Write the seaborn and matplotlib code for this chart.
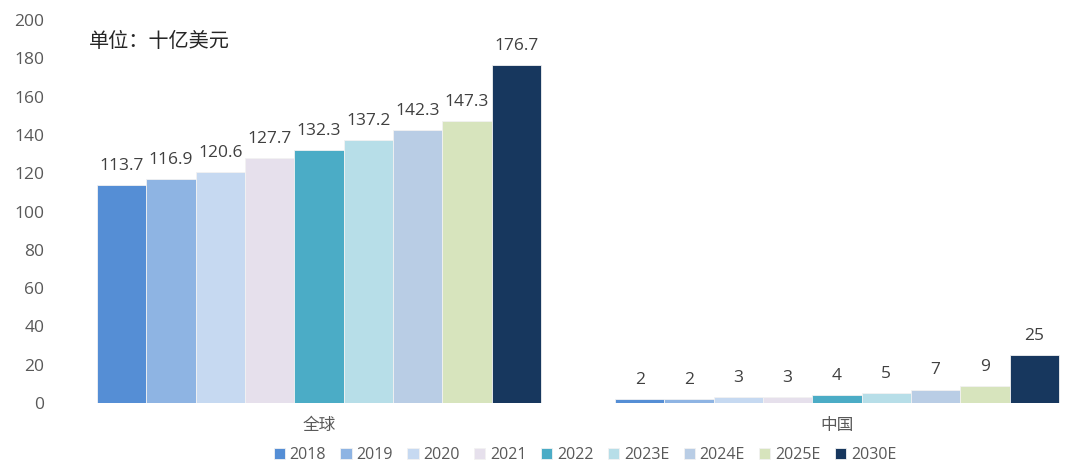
import matplotlib
matplotlib.use("Agg")
import matplotlib.pyplot as plt
import seaborn as sns
import pandas as pd

categories = ["全球", "中国"]
years = ["2018", "2019", "2020", "2021", "2022", "2023E", "2024E", "2025E", "2030E"]
global_values = [113.7, 116.9, 120.6, 127.7, 132.3, 137.2, 142.3, 147.3, 176.7]
china_values = [2, 2, 3, 3, 4, 5, 7, 9, 25]
global_labels = ["113.7", "116.9", "120.6", "127.7", "132.3", "137.2", "142.3", "147.3", "176.7"]
china_labels = ["2", "2", "3", "3", "4", "5", "7", "9", "25"]
colors = ["#558ED5", "#8EB4E3", "#C6D9F1", "#E6E0EC", "#4BACC6",
          "#B7DEE8", "#B9CDE5", "#D7E4BD", "#17375E"]
yticks = [0, 20, 40, 60, 80, 100, 120, 140, 160, 180, 200]

rows = []
for y, g, c in zip(years, global_values, china_values):
    rows.append({"cat": categories[0], "year": y, "value": g})
    rows.append({"cat": categories[1], "year": y, "value": c})
df = pd.DataFrame(rows)

sns.set_theme(style="white")
plt.rcParams['font.family'] = ['Open Sans', 'Noto Sans CJK SC', 'DejaVu Sans']

fig = plt.figure(figsize=(10.8, 4.76), dpi=100)
ax = fig.add_axes([75/1080, 73/476, 1000/1080, 383/476])

sns.barplot(data=df, x="cat", y="value", hue="year", order=categories,
            hue_order=years, palette=colors, saturation=1, width=0.857, gap=0,
            edgecolor="#F2F2F2", linewidth=0.6, ax=ax, legend=True)

ax.set_xlim(-(319-75)/518, (1075-319)/518)
ax.set_ylim(0, 200)
ax.set_yticks(yticks)
ax.set_yticklabels([str(t) for t in yticks], fontsize=12.5, color="#595959")
ax.tick_params(axis="y", length=0, pad=22)
ax.tick_params(axis="x", length=0, pad=10)
for lbl in ax.get_xticklabels():
    lbl.set_fontfamily(['Noto Sans CJK SC', 'DejaVu Sans'])
    lbl.set_fontsize(12)
    lbl.set_color("#595959")
ax.set_xlabel("")
ax.set_ylabel("")
for s in ax.spines.values():
    s.set_visible(False)

for cont, yv in zip(ax.containers, years):
    i = years.index(yv)
    ax.bar_label(cont, labels=[global_labels[i], china_labels[i]],
                 padding=8, fontsize=12.5, color="#404040")

ax.text(0.014, 0.945, "单位：十亿美元", transform=ax.transAxes,
        fontsize=14.5, color="#262626", family=['Noto Sans CJK SC', 'DejaVu Sans'],
        va="center", ha="left")

handles, labels = ax.get_legend_handles_labels()
ax.get_legend().remove()
fig.legend(handles, labels, loc="center", bbox_to_anchor=(585/1080, 1-455/476),
           ncol=9, frameon=False, fontsize=11.5, handlelength=0.7, handleheight=0.7,
           handletextpad=0.3, columnspacing=0.9, labelcolor="#595959")

fig.savefig("out.png", dpi=100)
